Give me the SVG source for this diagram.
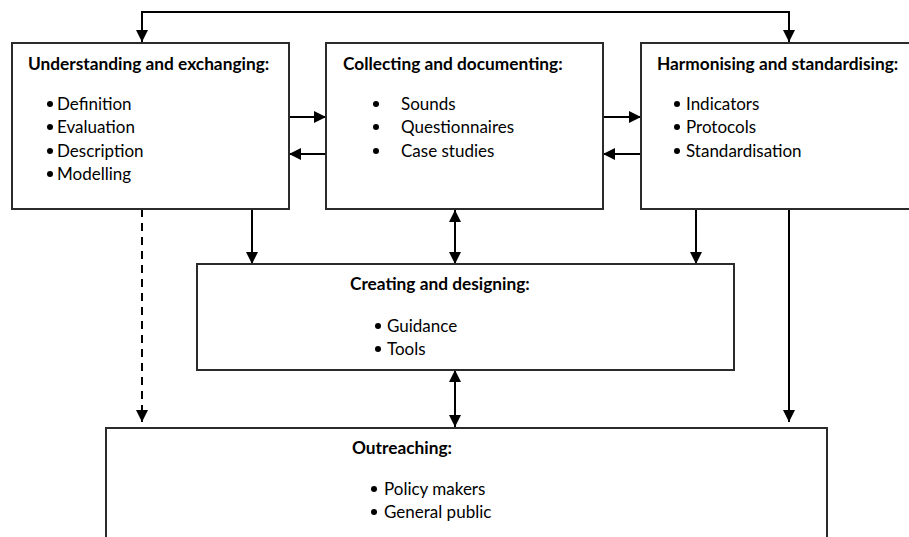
<svg xmlns="http://www.w3.org/2000/svg" width="909" height="537" viewBox="0 0 909 537">
  <style>
    .box { fill: #ffffff; stroke: #2b2b2b; stroke-width: 2; }
    .link { fill: none; stroke: #000000; stroke-width: 2; }
    .dash { stroke-dasharray: 8 6; }
    .title { font-family: Lato, "Liberation Sans", sans-serif; font-size: 17.3px; font-weight: bold; fill: #000000; }
    .item { font-family: Lato, "Liberation Sans", sans-serif; font-size: 17px; fill: #000000; }
    .dot { fill: #000000; }
  </style>
  <defs>
    <marker id="head" viewBox="0 0 12 12" refX="12" refY="6" markerWidth="12" markerHeight="12" markerUnits="userSpaceOnUse" orient="auto-start-reverse">
      <path d="M0,0 L12,6 L0,12 z" fill="#000000"/>
    </marker>
  </defs>
  <rect width="909" height="537" fill="#ffffff"/>

  <!-- connectors -->
  <g id="connectors">
    <!-- loop over the top between the two outer boxes -->
    <polyline class="link" points="142,42 142,12 789,12 789,42" marker-start="url(#head)" marker-end="url(#head)"/>
    <!-- exchanges between the top row boxes -->
    <line class="link" x1="289" y1="117" x2="326" y2="117" marker-end="url(#head)"/>
    <line class="link" x1="326" y1="154" x2="289" y2="154" marker-end="url(#head)"/>
    <line class="link" x1="603" y1="117" x2="641" y2="117" marker-end="url(#head)"/>
    <line class="link" x1="641" y1="154" x2="603" y2="154" marker-end="url(#head)"/>
    <!-- feeds into the middle box -->
    <line class="link" x1="252" y1="209" x2="252" y2="264" marker-end="url(#head)"/>
    <line class="link" x1="696" y1="209" x2="696" y2="264" marker-end="url(#head)"/>
    <line class="link" x1="455" y1="210" x2="455" y2="264" marker-start="url(#head)" marker-end="url(#head)"/>
    <line class="link" x1="455" y1="370" x2="455" y2="427" marker-start="url(#head)" marker-end="url(#head)"/>
    <!-- feeds into the bottom box -->
    <line class="link dash" x1="142" y1="209" x2="142" y2="422" marker-end="url(#head)"/>
    <line class="link" x1="789" y1="209" x2="789" y2="422" marker-end="url(#head)"/>
  </g>

  <g id="understanding">
    <rect class="box" x="12" y="43" width="277" height="166"/>
    <text class="title" x="28" y="70">Understanding and exchanging:</text>
    <circle class="dot" cx="50" cy="104" r="3"/>
    <circle class="dot" cx="50" cy="127" r="3"/>
    <circle class="dot" cx="50" cy="151" r="3"/>
    <circle class="dot" cx="50" cy="174" r="3"/>
    <text class="item" x="57" y="110">Definition</text>
    <text class="item" x="57" y="133">Evaluation</text>
    <text class="item" x="57" y="157">Description</text>
    <text class="item" x="57" y="180">Modelling</text>
  </g>

  <g id="collecting">
    <rect class="box" x="326" y="43" width="277" height="166"/>
    <text class="title" x="343" y="70">Collecting and documenting:</text>
    <circle class="dot" cx="376" cy="104" r="3"/>
    <circle class="dot" cx="376" cy="127" r="3"/>
    <circle class="dot" cx="376" cy="151" r="3"/>
    <text class="item" x="401" y="110">Sounds</text>
    <text class="item" x="401" y="133">Questionnaires</text>
    <text class="item" x="401" y="157">Case studies</text>
  </g>

  <g id="harmonising">
    <rect class="box" x="641" y="43" width="280" height="166"/>
    <text class="title" x="657" y="70">Harmonising and standardising:</text>
    <circle class="dot" cx="677" cy="104" r="3"/>
    <circle class="dot" cx="677" cy="127" r="3"/>
    <circle class="dot" cx="677" cy="151" r="3"/>
    <text class="item" x="686" y="110">Indicators</text>
    <text class="item" x="686" y="133">Protocols</text>
    <text class="item" x="686" y="157">Standardisation</text>
  </g>

  <g id="creating">
    <rect class="box" x="197" y="264" width="537" height="106"/>
    <text class="title" x="350" y="290">Creating and designing:</text>
    <circle class="dot" cx="378" cy="326" r="3"/>
    <circle class="dot" cx="378" cy="349" r="3"/>
    <text class="item" x="387" y="332">Guidance</text>
    <text class="item" x="387" y="355">Tools</text>
  </g>

  <g id="outreaching">
    <rect class="box" x="106" y="428" width="721" height="130"/>
    <text class="title" x="352" y="454">Outreaching:</text>
    <circle class="dot" cx="374" cy="489" r="3"/>
    <circle class="dot" cx="374" cy="512" r="3"/>
    <text class="item" x="384" y="495">Policy makers</text>
    <text class="item" x="384" y="518">General public</text>
  </g>
</svg>
